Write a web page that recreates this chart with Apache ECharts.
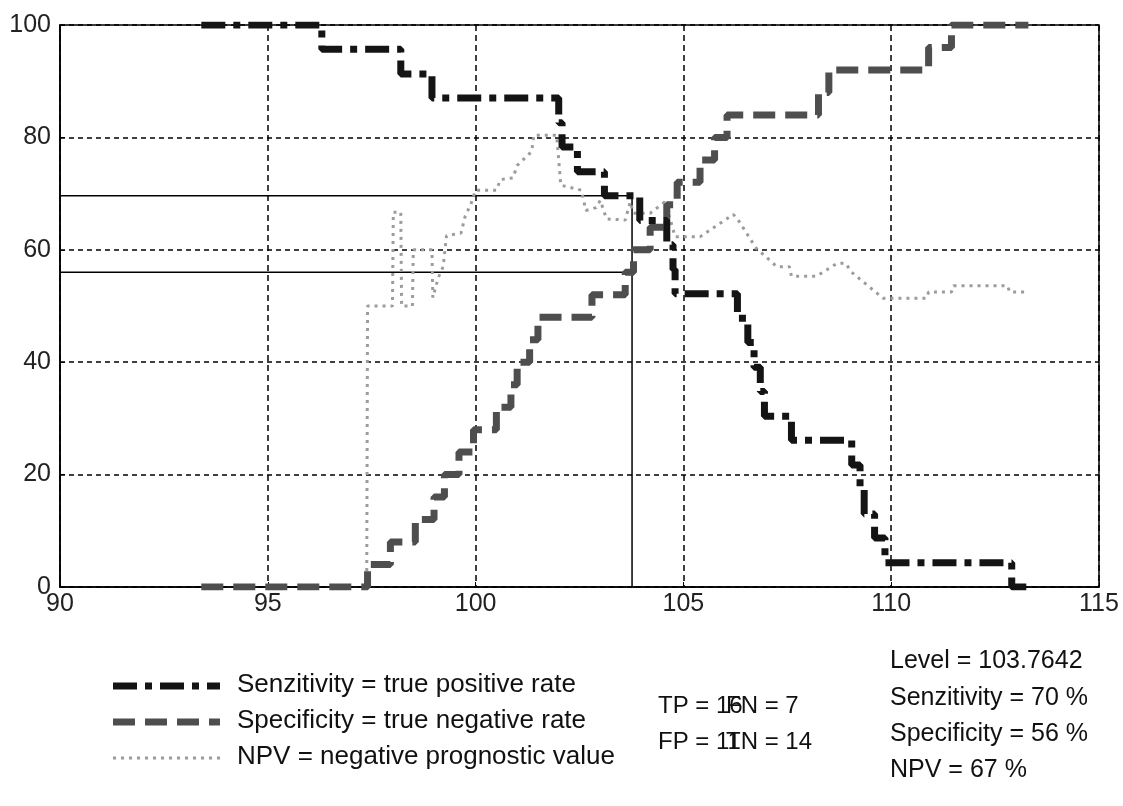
<!DOCTYPE html>
<html><head><meta charset="utf-8">
<script src="https://cdn.jsdelivr.net/npm/echarts@6/dist/echarts.min.js"></script>
<style>html,body{margin:0;padding:0;background:#fff}#c{width:1123px;height:806px}</style>
</head><body><div id="c"></div>
<script>
// ---- data ----
const xTicks = [90, 95, 100, 105, 110, 115];
const yTicks = [0, 20, 40, 60, 80, 100];

// Sensitivity (step: value begins at x)
const sensX = [93.4, 96.3, 98.2, 98.95, 102.0, 102.08, 102.45, 103.1, 103.95, 104.6, 104.75, 104.8, 106.3, 106.55, 106.7, 106.85, 106.95, 107.6, 109.05, 109.25, 109.35, 109.6, 109.85, 112.9, 113.3];
const sensY = [100, 95.7, 91.3, 87.0, 82.6, 78.3, 73.9, 69.6, 65.2, 60.9, 56.5, 52.2, 47.8, 43.5, 39.1, 34.8, 30.4, 26.1, 21.7, 17.4, 13.0, 8.7, 4.3, 0, 0];

// Specificity (step: value begins at x)
const specX = [93.4, 97.4, 97.95, 98.55, 99.0, 99.25, 99.6, 99.95, 100.5, 100.85, 101.0, 101.3, 101.5, 102.8, 103.6, 103.8, 104.2, 104.6, 104.85, 105.4, 105.75, 106.05, 108.25, 108.5, 110.9, 111.45, 113.3];
const specY = [0, 4, 8, 12, 16, 20, 24, 28, 32, 36, 40, 44, 48, 52, 56, 60, 64, 68, 72, 76, 80, 84, 88, 92, 96, 100, 100];

// NPV (polyline)
const npvX = [97.38, 97.40, 98.00, 98.02, 98.20, 98.22, 98.48, 98.50, 98.95, 98.97, 99.10, 99.22, 99.30, 99.65, 99.75, 99.88, 100.00, 100.50, 100.60, 100.90, 101.00, 101.35, 101.40, 101.95, 102.05, 102.55, 102.65, 102.90, 103.00, 103.15, 103.60, 103.72, 103.80, 104.20, 104.55, 104.70, 104.80, 105.40, 106.20, 106.30, 106.75, 107.25, 107.55, 107.60, 108.20, 108.70, 108.90, 109.05, 109.80, 110.85, 110.90, 111.45, 111.50, 112.80, 112.85, 113.20];
const npvY = [0, 50, 50, 66.7, 66.7, 50, 50, 60, 60, 51.5, 55, 57, 62.5, 63, 66, 68, 70.6, 70.6, 72.5, 72.8, 75, 77.5, 80.4, 80.4, 71.5, 70.6, 67, 67.5, 68.8, 65.5, 65.3, 68.5, 66.5, 66.5, 68.5, 65, 62.3, 62.3, 66.3, 65.5, 60.3, 57, 57, 55.3, 55.3, 57.6, 57.6, 56, 51.4, 51.4, 52.5, 52.5, 53.6, 53.6, 52.5, 52.5];

// Selected cut-off
const cutLevel = 103.7642;
const cutSens = 69.6;
const cutSpec = 56;

const seriesNames = ['Senzitivity = true positive rate', 'Specificity = true negative rate', 'NPV = negative prognostic value'];
const countLines = [['TP = 16', 'FN = 7'], ['FP = 11', 'TN = 14']];
const resultLines = ['Level = 103.7642', 'Senzitivity = 70 %', 'Specificity = 56 %', 'NPV = 67 %'];

// ---- styles ----
const FONT = 'Liberation Sans';
const font = (px) => px + 'px "' + FONT + '"';
const styles = [
  {color: '#141414', width: 7, dash: [24, 8, 7, 8]},
  {color: '#4e4e4e', width: 7, dash: [22, 10]},
  {color: '#9c9c9c', width: 3, dash: [3, 5]}
];

// ---- build ----
const zip = (xs, ys) => xs.map((x, i) => [x, ys[i]]);
const chart = echarts.init(document.getElementById('c'), null, {renderer: 'canvas'});

const graphics = [];
seriesNames.forEach((name, i) => {
  const yRow = 686 + i * 36;
  graphics.push({type: 'line', shape: {x1: 113, y1: yRow, x2: 220, y2: yRow},
    style: {stroke: styles[i].color, lineWidth: styles[i].width, lineDash: styles[i].dash}, z: 10});
  graphics.push({type: 'text', left: 237, top: yRow - 14, style: {text: name, font: font(26), fill: '#111'}, z: 10});
});
countLines.forEach((pair, i) => {
  graphics.push({type: 'text', left: 658, top: 694 + i * 36, style: {text: pair[0], font: font(24), fill: '#111'}, z: 10});
  graphics.push({type: 'text', left: 726, top: 694 + i * 36, style: {text: pair[1], font: font(24), fill: '#111'}, z: 10});
});
resultLines.forEach((t, i) => {
  graphics.push({type: 'text', left: 890, top: 649 + i * 36.3, style: {text: t, font: font(25), fill: '#111'}, z: 10});
});

chart.setOption({
  animation: false,
  backgroundColor: '#fff',
  grid: {left: 60, right: 24, top: 25, bottom: 219, show: true, borderColor: '#000', borderWidth: 1.5, backgroundColor: 'transparent'},
  xAxis: {
    type: 'value', min: xTicks[0], max: xTicks[xTicks.length - 1], interval: 5,
    axisLine: {show: true, onZero: false, lineStyle: {color: '#000', width: 1.5}},
    axisTick: {show: true, inside: true, length: 5, lineStyle: {color: '#000'}},
    axisLabel: {fontFamily: FONT, fontSize: 25, color: '#222', margin: 5},
    splitLine: {show: true, lineStyle: {color: '#000', type: [6, 4], width: 1.5}}
  },
  yAxis: {
    type: 'value', min: yTicks[0], max: yTicks[yTicks.length - 1], interval: 20,
    axisLine: {show: true, lineStyle: {color: '#000', width: 1.5}},
    axisTick: {show: true, inside: true, length: 5, lineStyle: {color: '#000'}},
    axisLabel: {fontFamily: FONT, fontSize: 25, color: '#222', margin: 9},
    splitLine: {show: true, lineStyle: {color: '#000', type: [5, 4], width: 1.5}}
  },
  graphic: graphics,
  series: [
    {
      name: 'cut-sens', type: 'line', silent: true, symbol: 'none', z: 1,
      data: [[xTicks[0], cutSens], [cutLevel, cutSens], [cutLevel, 0]],
      lineStyle: {color: '#000', width: 1.5}
    },
    {
      name: 'cut-spec', type: 'line', silent: true, symbol: 'none', z: 1,
      data: [[xTicks[0], cutSpec], [cutLevel, cutSpec]],
      lineStyle: {color: '#000', width: 1.5}
    },
    {
      name: seriesNames[2], type: 'line', symbol: 'none', z: 2,
      data: zip(npvX, npvY),
      lineStyle: {color: styles[2].color, width: styles[2].width, type: styles[2].dash}
    },
    {
      name: seriesNames[1], type: 'line', step: 'end', symbol: 'none', z: 3,
      data: zip(specX, specY),
      lineStyle: {color: styles[1].color, width: styles[1].width, type: styles[1].dash}
    },
    {
      name: seriesNames[0], type: 'line', step: 'end', symbol: 'none', z: 4,
      data: zip(sensX, sensY),
      lineStyle: {color: styles[0].color, width: styles[0].width, type: styles[0].dash}
    }
  ]
});
</script>
</body></html>
